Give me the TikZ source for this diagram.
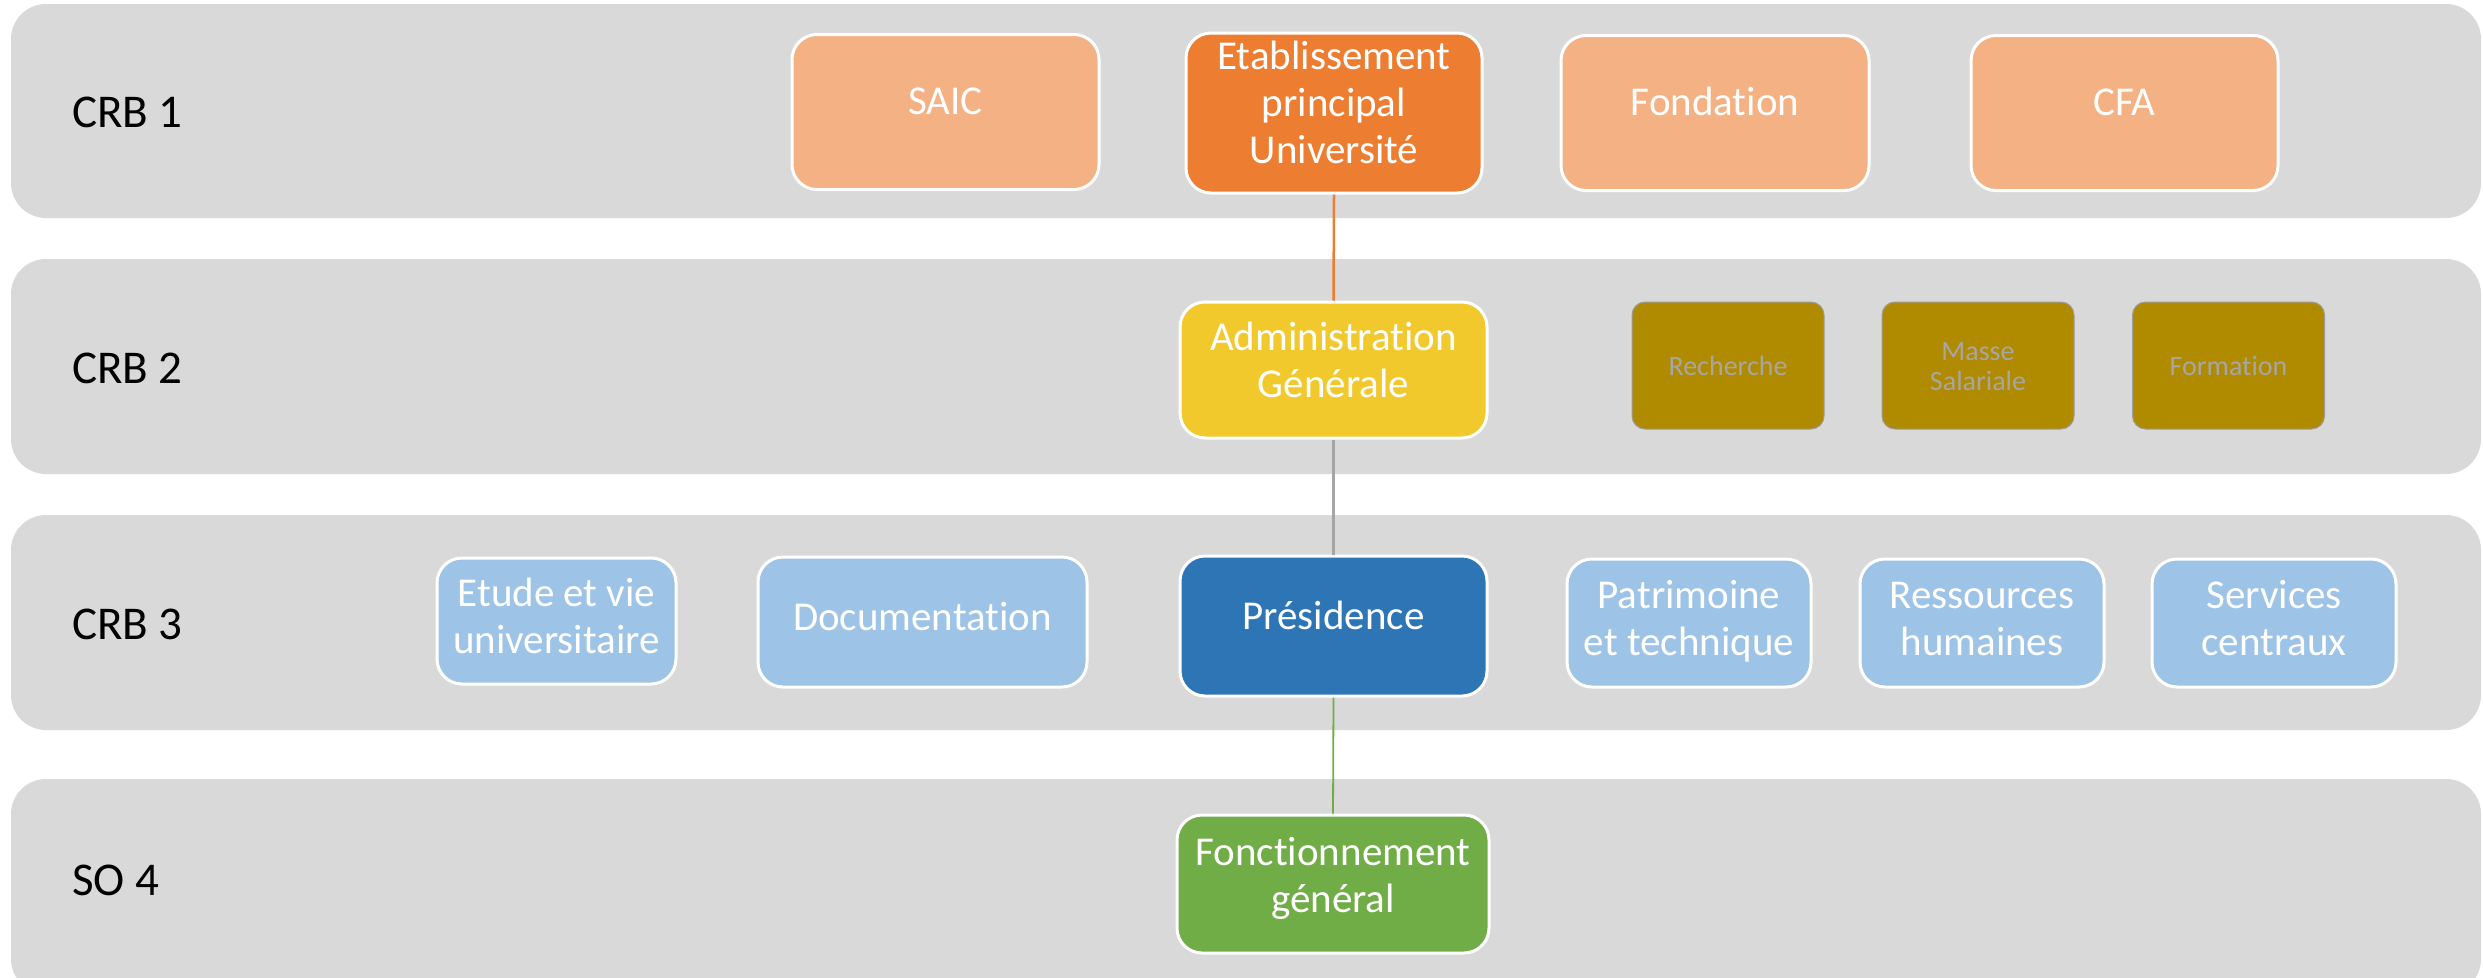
\documentclass[tikz,border=0pt]{standalone}
\usepackage{fontspec}
\setmainfont{Carlito}[RawFeature={-liga;-clig;-calt;-dlig}]
\definecolor{bandgray}{HTML}{D9D9D9}
\definecolor{peach}{HTML}{F4B183}
\definecolor{orangeB}{HTML}{ED7D31}
\definecolor{yellowB}{HTML}{F2C92D}
\definecolor{goldB}{HTML}{B08B00}
\definecolor{goldtext}{HTML}{A6A6A6}
\definecolor{goldline}{HTML}{9C9C9C}
\definecolor{lightblue}{HTML}{9DC3E6}
\definecolor{blueB}{HTML}{2E75B6}
\definecolor{greenB}{HTML}{70AD47}
\definecolor{grayline}{HTML}{A5A5A5}
% first-line and last-line struts; argument = downward shift of the baselines (pt)
\newcommand{\hstr}[1]{\vrule width 0pt height \dimexpr 32pt+#1pt\relax depth 0pt\relax}
\newcommand{\dstr}[1]{\vrule width 0pt height 0pt depth \dimexpr 32pt-#1pt\relax\relax}
\newcommand{\shstr}{\vrule width 0pt height 34pt depth 0pt\relax}
\newcommand{\sdstr}{\vrule width 0pt height 0pt depth 14pt\relax}
\tikzset{
  band/.style={fill=bandgray, rounded corners=35pt},
  bandlabel/.style={anchor=base west, font=\fontsize{47}{56}\selectfont, text=black, inner sep=0pt},
  box/.style={rounded corners=25pt, draw=white, line width=3pt, text=white,
    font=\fontsize{41}{47}\selectfont, align=center, inner sep=0pt},
  smallbox/.style={rounded corners=13pt, draw=goldline, line width=1pt, fill=goldB, text=goldtext,
    font=\fontsize{28}{30}\selectfont, align=center, inner sep=0pt,
    minimum width=192pt, minimum height=127pt},
  conn/.style={line width=2.5pt}
}
\begin{document}
\begin{tikzpicture}[x=1pt,y=-1pt]
\useasboundingbox (0,0) rectangle (2483,977);
\clip (0,0) rectangle (2483,977);
% bands
\fill[band] (11,4) rectangle (2481,218);
\fill[band] (11,259) rectangle (2481,474);
\fill[band] (11,515) rectangle (2481,730);
\fill[band] (11,779) rectangle (2481,994);
% band labels
\node[bandlabel] (l1) at (72,127) {CRB 1};
\node[bandlabel] (l2) at (72,383) {CRB 2};
\node[bandlabel] (l3) at (72,639) {CRB 3};
\node[bandlabel] (l4) at (72,895) {SO 4};
% row 1
\node[box, fill=peach, minimum width=307pt, minimum height=155pt] (saic) at (945.5,112) {\hstr{2}SAIC\dstr{2}};
\node[box, fill=orangeB, minimum width=296pt, minimum height=160pt] (etab) at (1334,113) {\hstr{3.5}Etablissement\\principal\\Université\dstr{3.5}};
\node[box, fill=peach, minimum width=308pt, minimum height=155pt] (fond) at (1715,113) {\hstr{2}Fondation\dstr{2}};
\node[box, fill=peach, minimum width=307pt, minimum height=155pt] (cfa) at (2124.5,113) {\hstr{2}CFA\dstr{2}};
% row 2
\node[box, fill=yellowB, minimum width=307pt, minimum height=136pt] (admin) at (1333.5,370) {\hstr{4}Administration\\Générale\dstr{4}};
\node[smallbox] (rech) at (1728,365.5) {\shstr Recherche\sdstr};
\node[smallbox] (masse) at (1978,365.5) {\shstr Masse\\Salariale\sdstr};
\node[smallbox] (form) at (2228.5,365.5) {\shstr Formation\sdstr};
% row 3
\node[box, fill=lightblue, minimum width=239pt, minimum height=126pt] (etude) at (556.5,621) {\hstr{9}Etude et vie\\universitaire\dstr{9}};
\node[box, fill=lightblue, minimum width=329pt, minimum height=130pt] (doc) at (922.5,622) {\hstr{8}Documentation\dstr{8}};
\node[box, fill=blueB, minimum width=307pt, minimum height=140pt] (pres) at (1333.5,626) {\hstr{3}Présidence\dstr{3}};
\node[box, fill=lightblue, minimum width=244pt, minimum height=128pt] (patr) at (1689,623) {\hstr{9}Patrimoine\\et technique\dstr{9}};
\node[box, fill=lightblue, minimum width=244pt, minimum height=128pt] (rh) at (1982,623) {\hstr{9}Ressources\\humaines\dstr{9}};
\node[box, fill=lightblue, minimum width=244pt, minimum height=128pt] (serv) at (2274,623) {\hstr{9}Services\\centraux\dstr{9}};
% row 4
\node[box, fill=greenB, minimum width=312pt, minimum height=138pt] (fonc) at (1333,884) {\hstr{5}Fonctionnement\\général\dstr{5}};
% connectors
\draw[conn, orangeB] (etab.south) -- (admin.north);
\draw[conn, grayline] (admin.south) -- (pres.north);
\draw[conn, greenB, line width=1.8pt] (pres.south) -- (fonc.north);
\end{tikzpicture}
\end{document}
